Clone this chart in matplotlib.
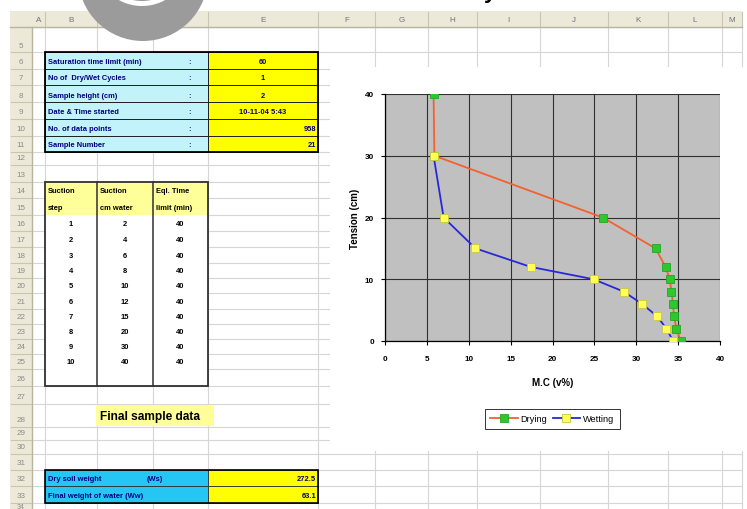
import matplotlib
matplotlib.use('Agg')
import matplotlib.pyplot as plt
import matplotlib.patches as patches

plt.rcParams['font.family'] = ['Liberation Sans', 'DejaVu Sans']

# ---- sheet contents ----
col_names = ['A', 'B', 'C', 'D', 'E', 'F', 'G', 'H', 'I', 'J', 'K', 'L', 'M']
row_numbers = list(range(5, 35))

info_labels = ['Saturation time limit (min)', 'No of  Dry/Wet Cycles', 'Sample height (cm)',
               'Date & Time started', 'No. of data points', 'Sample Number']
info_values = ['60', '1', '2', '10-11-04 5:43', '958', '21']
info_align = ['center', 'center', 'center', 'center', 'right', 'right']

step_head = [('Suction', 'step'), ('Suction', 'cm water'), ('Eql. Time', 'limit (min)')]
suction_step = [1, 2, 3, 4, 5, 6, 7, 8, 9, 10]
suction_cm = [2, 4, 6, 8, 10, 12, 15, 20, 30, 40]
eq_time_limit = [40, 40, 40, 40, 40, 40, 40, 40, 40, 40]

final_labels = ['Dry soil weight', 'Final weight of water (Ww)']
final_units = ['(Ws)', '']
final_values = ['272.5', '63.1']

# ---- chart data ----
drying_mc = [5.8, 5.9, 26.0, 32.3, 33.5, 34.0, 34.2, 34.4, 34.5, 34.8, 35.3]
drying_tension = [40, 30, 20, 15, 12, 10, 8, 6, 4, 2, 0]
wetting_mc = [5.8, 7.0, 10.8, 17.4, 24.9, 28.5, 30.7, 32.5, 33.6, 34.4]
wetting_tension = [30, 20, 15, 12, 10, 8, 6, 4, 2, 0]

# ---- layout (pixels) ----
W, H = 747, 510
col_edges = [10, 32, 45, 97, 153, 208, 318, 375, 428, 477, 540, 608, 668, 722, 742]
row_edges = [12, 28, 53, 70, 86, 103, 120, 137, 153, 166, 183, 199, 216, 232, 248, 264,
             279, 294, 310, 325, 340, 355, 370, 387, 405, 428, 441, 455, 471, 487, 504, 520]

header_bg = '#ece9d8'
header_line = '#c9c5b3'
grid_col = '#d6d6d6'
cyan = '#c2f3fb'
yellow = '#ffff00'
pale = '#ffff99'
blue = '#25c6f3'
navy = '#000080'
fs = 5.4


def col_l(c):
    return col_edges[col_names.index(c) + 1]


def col_r(c):
    return col_edges[col_names.index(c) + 2]


def row_t(r):
    return row_edges[r - 5 + 1]


def row_b(r):
    return row_edges[r - 5 + 2]


def text_y(r):
    return row_b(r) - 7


fig = plt.figure(figsize=(W / 100, H / 100), dpi=100)
sh = fig.add_axes([0, 0, 1, 1])
sh.set_xlim(0, W)
sh.set_ylim(H, 0)
sh.axis('off')

# cell grid
for y in row_edges[1:]:
    sh.plot([col_edges[1], col_edges[-1]], [y, y], color=grid_col, lw=0.8, zorder=1)
for x in col_edges[2:]:
    sh.plot([x, x], [row_edges[1], H], color=grid_col, lw=0.8, zorder=1)

# headers
sh.add_patch(patches.Rectangle((col_edges[0], row_edges[0]), col_edges[-1] - col_edges[0],
                               row_edges[1] - row_edges[0], fc=header_bg, ec='none', zorder=2))
sh.add_patch(patches.Rectangle((col_edges[0], row_edges[1]), col_edges[1] - col_edges[0],
                               H - row_edges[1], fc=header_bg, ec='none', zorder=2))
for i, c in enumerate(col_names):
    x0, x1 = col_edges[i + 1], col_edges[i + 2]
    sh.plot([x1, x1], [row_edges[0] + 1, row_edges[1] - 1], color=header_line, lw=0.8, zorder=3)
    sh.text((x0 + x1) / 2, (row_edges[0] + row_edges[1]) / 2 + 1, c, ha='center', va='center',
            fontsize=5.8, color='#707070', zorder=3)
for i, r in enumerate(row_numbers):
    y0, y1 = row_edges[i + 1], row_edges[i + 2]
    sh.plot([col_edges[0] + 1, col_edges[1] - 1], [y1, y1], color=header_line, lw=0.8, zorder=3)
    if y1 > H:
        # last row is only partly on screen
        sh.text((col_edges[0] + col_edges[1]) / 2, y0 + 0.5, str(r), ha='center', va='top',
                fontsize=5.0, color='#8a8a8a', zorder=3)
    else:
        sh.text((col_edges[0] + col_edges[1]) / 2, y1 - 7, str(r), ha='center', va='center',
                fontsize=5.8, color='#8a8a8a', zorder=3)
sh.plot([col_edges[0], col_edges[-1]], [row_edges[1], row_edges[1]], color='#b8b4a0', lw=1, zorder=3)
sh.plot([col_edges[1], col_edges[1]], [row_edges[1], H], color='#b8b4a0', lw=1, zorder=3)

# parameters block
for k, r in enumerate(range(6, 12)):
    sh.add_patch(patches.Rectangle((col_l('B'), row_t(r)), col_r('D') - col_l('B'),
                                   row_b(r) - row_t(r), fc=cyan, ec='#202020', lw=0.7, zorder=4))
    sh.add_patch(patches.Rectangle((col_l('E'), row_t(r)), col_r('E') - col_l('E'),
                                   row_b(r) - row_t(r), fc=yellow, ec='#202020', lw=0.7, zorder=4))
    sh.text(col_l('B') + 3, text_y(r), info_labels[k], fontsize=fs, fontweight='bold',
            color=navy, va='center', zorder=5)
    sh.text(188, text_y(r), ':', fontsize=fs, fontweight='bold', color=navy, va='center', zorder=5)
    if info_align[k] == 'right':
        sh.text(col_r('E') - 2, text_y(r), info_values[k], fontsize=fs, fontweight='bold',
                color=navy, ha='right', va='center', zorder=5)
    else:
        sh.text((col_l('E') + col_r('E')) / 2, text_y(r), info_values[k], fontsize=fs,
                fontweight='bold', color=navy, ha='center', va='center', zorder=5)
sh.add_patch(patches.Rectangle((col_l('B'), row_t(6)), col_r('E') - col_l('B'),
                               row_b(11) - row_t(6), fc='none', ec='black', lw=1.3, zorder=6))

# suction steps table
tx0, tx1 = col_l('B'), col_r('D')
sh.add_patch(patches.Rectangle((tx0, row_t(14)), tx1 - tx0, row_b(26) - row_t(14),
                               fc='white', ec='none', zorder=4))
sh.add_patch(patches.Rectangle((tx0, row_t(14)), tx1 - tx0, row_b(15) - row_t(14),
                               fc=pale, ec='none', zorder=4))
for j, c in enumerate(['B', 'C', 'D']):
    sh.text(col_l(c) + 3, text_y(14), step_head[j][0], fontsize=fs, fontweight='bold', va='center', zorder=5)
    sh.text(col_l(c) + 3, text_y(15), step_head[j][1], fontsize=fs, fontweight='bold', va='center', zorder=5)
for k in range(len(suction_step)):
    r = 16 + k
    for c, v in zip(['B', 'C', 'D'], [suction_step[k], suction_cm[k], eq_time_limit[k]]):
        sh.text((col_l(c) + col_r(c)) / 2, text_y(r), str(v), fontsize=fs, fontweight='bold',
                ha='center', va='center', zorder=5)
for c in ['C', 'D']:
    sh.plot([col_l(c), col_l(c)], [row_t(14), row_b(26)], color='#303030', lw=1.1, zorder=6)
sh.add_patch(patches.Rectangle((tx0, row_t(14)), tx1 - tx0, row_b(26) - row_t(14),
                               fc='none', ec='#303030', lw=1.3, zorder=6))

# final sample data
sh.add_patch(patches.Rectangle((96, 406), 118, 21, fc=pale, ec='none', zorder=4))
sh.text(100, 417, 'Final sample data', fontsize=8.6, fontweight='bold', va='center', zorder=5)
for k, r in enumerate([32, 33]):
    sh.add_patch(patches.Rectangle((col_l('B'), row_t(r)), col_r('D') - col_l('B'),
                                   row_b(r) - row_t(r), fc=blue, ec='#303030', lw=0.6, zorder=4))
    sh.add_patch(patches.Rectangle((col_l('E'), row_t(r)), col_r('E') - col_l('E'),
                                   row_b(r) - row_t(r), fc=yellow, ec='#303030', lw=0.6, zorder=4))
    sh.text(col_l('B') + 3, text_y(r), final_labels[k], fontsize=fs, fontweight='bold',
            color=navy, va='center', zorder=5)
    sh.text(147, text_y(r), final_units[k], fontsize=fs, fontweight='bold',
            color=navy, va='center', zorder=5)
    sh.text(col_r('E') - 2, text_y(r), final_values[k], fontsize=fs, fontweight='bold',
            color=navy, ha='right', va='center', zorder=5)
sh.add_patch(patches.Rectangle((col_l('B'), row_t(32)), col_r('E') - col_l('B'),
                               row_b(33) - row_t(32), fc='none', ec='black', lw=1.2, zorder=6))

# chart area
sh.add_patch(patches.Rectangle((330, 68), W - 330, 384, fc='white', ec='none', zorder=7))

# badge at the top
sh.add_patch(patches.Circle((143, -23), 65, fc='#9b9b9b', ec='none', zorder=8))
sh.add_patch(patches.Annulus((142, -41), 48, 5, fc='white', ec='none', zorder=9))
sh.text(490, -2.5, 'y', fontsize=16, fontweight='bold', color='black', ha='center',
        va='baseline', zorder=9)

# ---- chart ----
px_l, px_r, px_t, px_b = 385, 720, 95, 342
ax = fig.add_axes([px_l / W, (H - px_b) / H, (px_r - px_l) / W, (px_b - px_t) / H])
ax.set_facecolor('#c0c0c0')
ax.plot(drying_mc, drying_tension, color='#f5602e', lw=1.3, marker='s', ms=5.8,
        mfc='#2ec82e', mec='#22a822', mew=0.6, label='Drying', zorder=3)
ax.plot(wetting_mc, wetting_tension, color='#2828d8', lw=1.3, marker='s', ms=5.8,
        mfc='#ffff55', mec='#c8c840', mew=0.6, label='Wetting', zorder=4)
ax.set_xlim(0, 40)
ax.set_ylim(0, 40)
ax.set_xticks(range(0, 41, 5))
ax.set_yticks(range(0, 41, 10))
ax.grid(True, color='#303030', lw=0.8)
ax.set_axisbelow(True)
for s in ['top', 'right']:
    ax.spines[s].set_visible(False)
for s in ['left', 'bottom']:
    ax.spines[s].set_color('black')
    ax.spines[s].set_linewidth(0.9)
ax.tick_params(axis='both', length=3, width=0.8, labelsize=5.9, direction='out')
ax.tick_params(axis='x', pad=7)
ax.tick_params(axis='y', pad=5)
for lab in ax.get_xticklabels() + ax.get_yticklabels():
    lab.set_fontweight('bold')
ax.set_xlabel('M.C (v%)', fontsize=7, fontweight='bold', labelpad=11)
ax.set_ylabel('Tension (cm)', fontsize=7, fontweight='bold', labelpad=3)
leg = ax.legend(loc='center', bbox_to_anchor=(552 / W, (H - 420) / H),
                bbox_transform=fig.transFigure, ncol=2, fontsize=6.6, frameon=True,
                fancybox=False, edgecolor='black', handlelength=3.0, columnspacing=0.6,
                handletextpad=0.3, borderpad=0.6)
leg.get_frame().set_linewidth(0.7)

fig.savefig('out.png', dpi=100)
